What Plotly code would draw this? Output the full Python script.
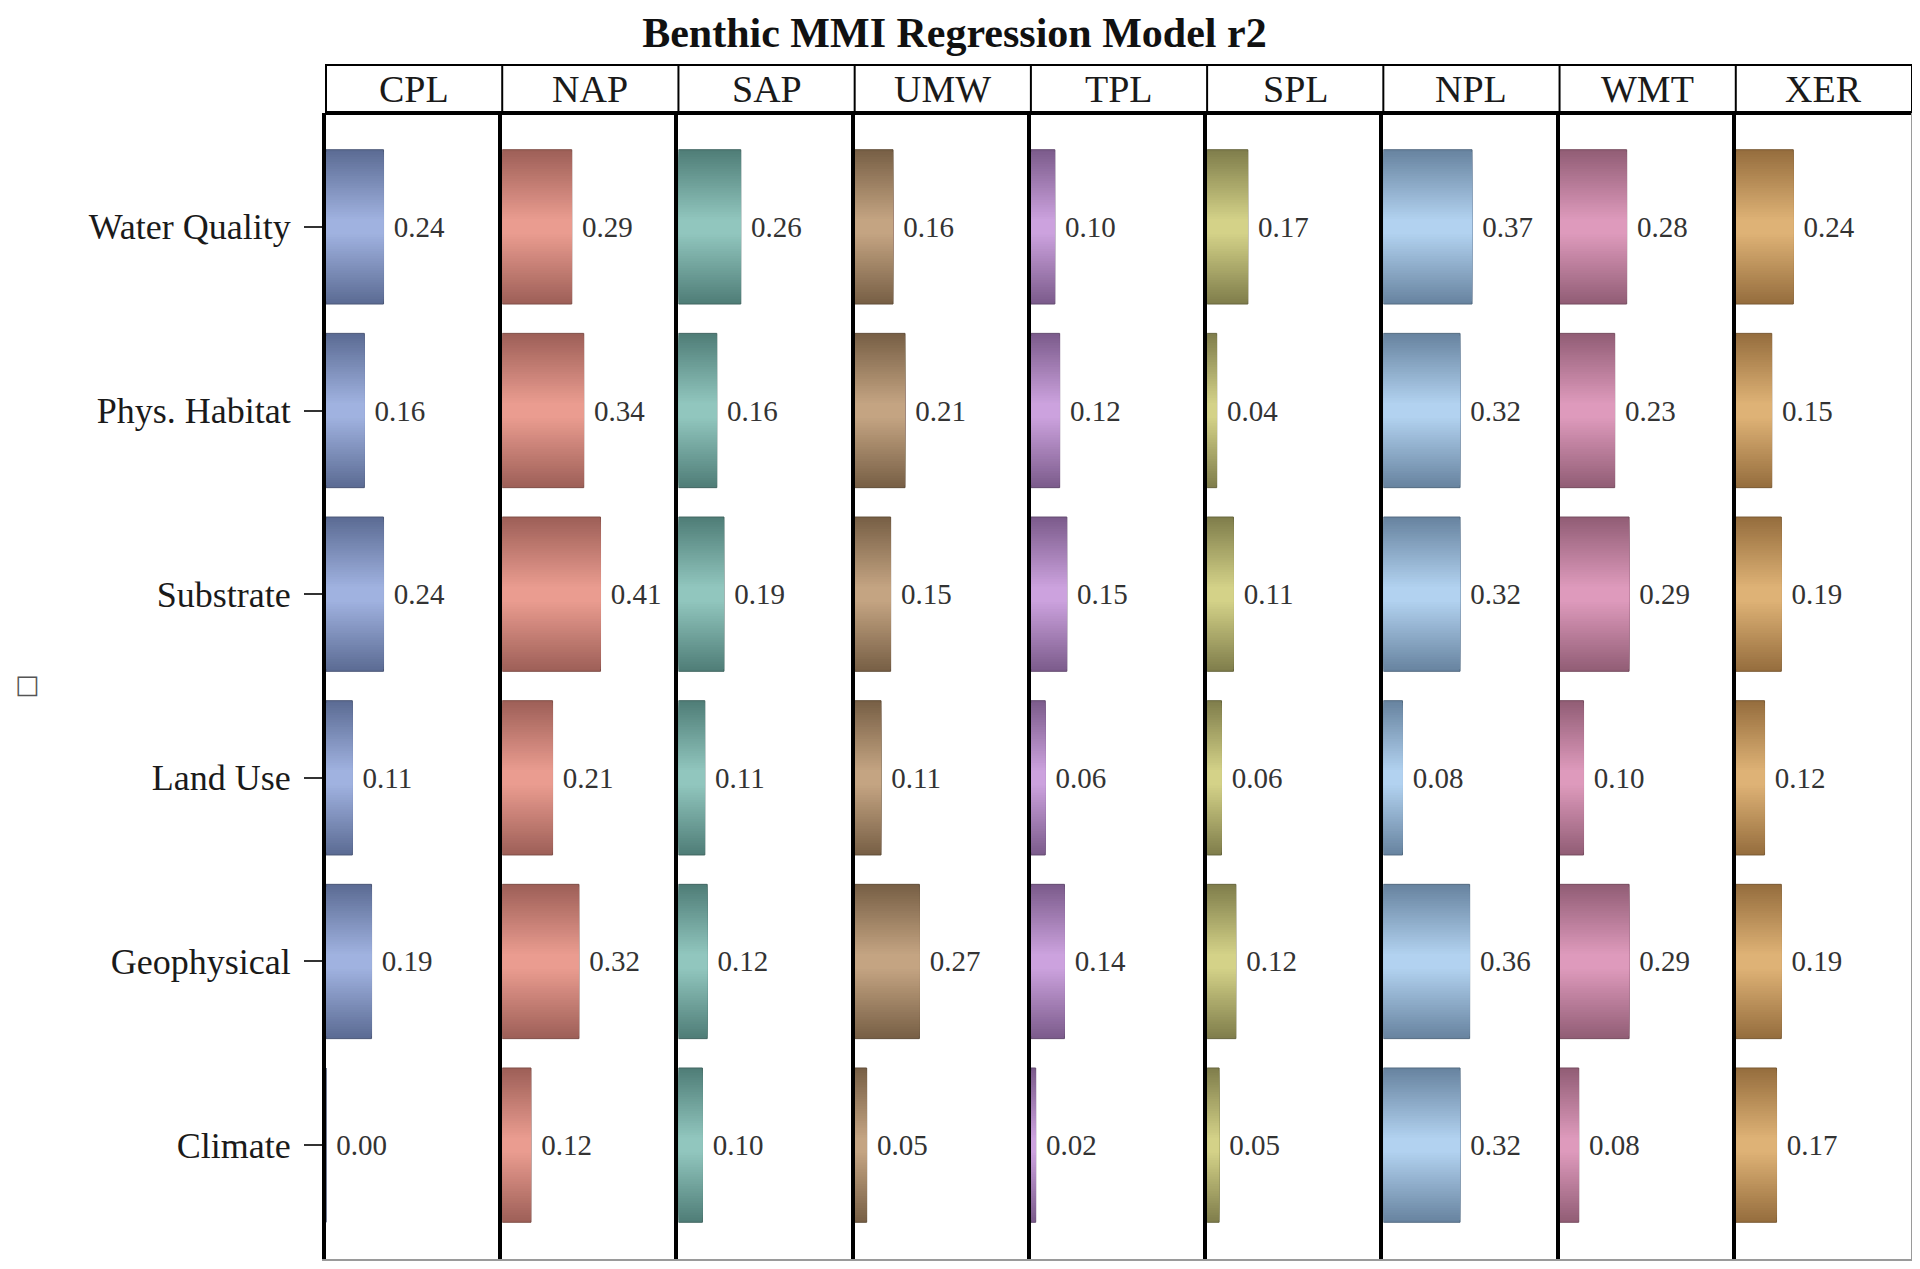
import plotly.graph_objects as go
from plotly.subplots import make_subplots

# data
categories = ["Water Quality", "Phys. Habitat", "Substrate", "Land Use", "Geophysical", "Climate"]
regions = ["CPL", "NAP", "SAP", "UMW", "TPL", "SPL", "NPL", "WMT", "XER"]

cpl = [0.24, 0.16, 0.24, 0.11, 0.19, 0.00]
nap = [0.29, 0.34, 0.41, 0.21, 0.32, 0.12]
sap = [0.26, 0.16, 0.19, 0.11, 0.12, 0.10]
umw = [0.16, 0.21, 0.15, 0.11, 0.27, 0.05]
tpl = [0.10, 0.12, 0.15, 0.06, 0.14, 0.02]
spl = [0.17, 0.04, 0.11, 0.06, 0.12, 0.05]
npl = [0.37, 0.32, 0.32, 0.08, 0.36, 0.32]
wmt = [0.28, 0.23, 0.29, 0.10, 0.29, 0.08]
xer = [0.24, 0.15, 0.19, 0.12, 0.19, 0.17]
values = [cpl, nap, sap, umw, tpl, spl, npl, wmt, xer]

# (center colour, edge colour) per panel
palette = [
    ((160, 178, 224), (92, 108, 148)),
    ((234, 156, 144), (158, 96, 88)),
    ((145, 198, 190), (80, 126, 120)),
    ((196, 164, 130), (120, 96, 70)),
    ((204, 162, 222), (124, 92, 140)),
    ((212, 210, 136), (128, 126, 76)),
    ((178, 210, 240), (104, 132, 160)),
    ((222, 154, 188), (146, 94, 118)),
    ((222, 178, 118), (150, 110, 62)),
]

SERIF = "Liberation Serif, Times New Roman, serif"
n = len(regions)
fig = make_subplots(rows=1, cols=n, shared_yaxes=True, horizontal_spacing=0)

bar_w = 0.84
n_layers = 30


def mix(a, b, t):
    return "rgb(%d,%d,%d)" % tuple(round(a[i] + (b[i] - a[i]) * t) for i in range(3))


for i, (reg, vals) in enumerate(zip(regions, values)):
    light, dark = palette[i]
    # fake vertical gradient: overlaid bars, narrowing and lightening toward the middle
    for k in range(n_layers):
        f = k / (n_layers - 1)
        outer = k == 0
        fig.add_trace(go.Bar(
            x=vals, y=categories, orientation="h",
            width=bar_w * (1 - 0.9 * f),
            marker=dict(color=mix(dark, light, f),
                        line=dict(color=mix(dark, (0, 0, 0), 0.2) if outer else "rgba(0,0,0,0)",
                                  width=1 if outer else 0)),
            text=["\u00a0%.2f" % v for v in vals] if outer else None,
            textposition="outside" if outer else "none",
            textfont=dict(family=SERIF, size=29, color="#333333"),
            cliponaxis=False,
            showlegend=False, hoverinfo="skip" if not outer else None,
        ), row=1, col=i + 1)

fig.update_xaxes(range=[0, 0.735], showgrid=False, zeroline=False, showticklabels=False,
                 ticks="", showline=True, linecolor="#9a9a9a", linewidth=2, fixedrange=True)
fig.update_yaxes(categoryorder="array", categoryarray=categories, range=[5.62, -0.62],
                 showgrid=False, zeroline=False, showline=True, linecolor="black", linewidth=4,
                 ticks="", fixedrange=True)
fig.update_yaxes(ticks="outside", ticklen=18, tickwidth=2, tickcolor="#333333", ticklabelstandoff=6,
                 tickfont=dict(family=SERIF, size=36, color="#1a1a1a"), row=1, col=1)

# header strip with region names
hh = 48 / 1146
shapes = [dict(type="rect", xref="paper", yref="paper", x0=0, x1=1, y0=1, y1=1 + hh,
               line=dict(color="black", width=2))]
annotations = []
for i, reg in enumerate(regions):
    x0, x1 = i / n, (i + 1) / n
    if i > 0:
        shapes.append(dict(type="line", xref="paper", yref="paper", x0=x0, x1=x0, y0=1, y1=1 + hh,
                           line=dict(color="black", width=2)))
    annotations.append(dict(text=reg, xref="paper", yref="paper", x=(x0 + x1) / 2, y=1 + hh / 2,
                            showarrow=False, font=dict(family=SERIF, size=38, color="#1a1a1a"),
                            xanchor="center", yanchor="middle"))
shapes.append(dict(type="line", xref="paper", yref="paper", x0=0, x1=1, y0=1, y1=1,
                   line=dict(color="black", width=4)))
shapes.append(dict(type="line", xref="paper", yref="paper", x0=1, x1=1, y0=0, y1=1,
                   line=dict(color="#9a9a9a", width=2)))
annotations.append(dict(text="\u25a1", xref="paper", yref="paper", x=-0.19, y=0.5,
                        xanchor="center", yanchor="middle",
                        showarrow=False, textangle=-90, font=dict(family="DejaVu Sans", size=26, color="#555555")))

fig.update_layout(
    width=1912, height=1261,
    barmode="overlay",
    title=dict(text="<b>Benthic MMI Regression Model r2</b>", x=0.495, xref="container",
               y=0.981, yref="container", yanchor="middle",
               font=dict(family=SERIF, size=42, color="#111111")),
    margin=dict(l=318, r=8, t=105, b=10),
    plot_bgcolor="white", paper_bgcolor="white",
    shapes=shapes, annotations=annotations,
)

fig.write_html("out.html", config={"displayModeBar": False})
